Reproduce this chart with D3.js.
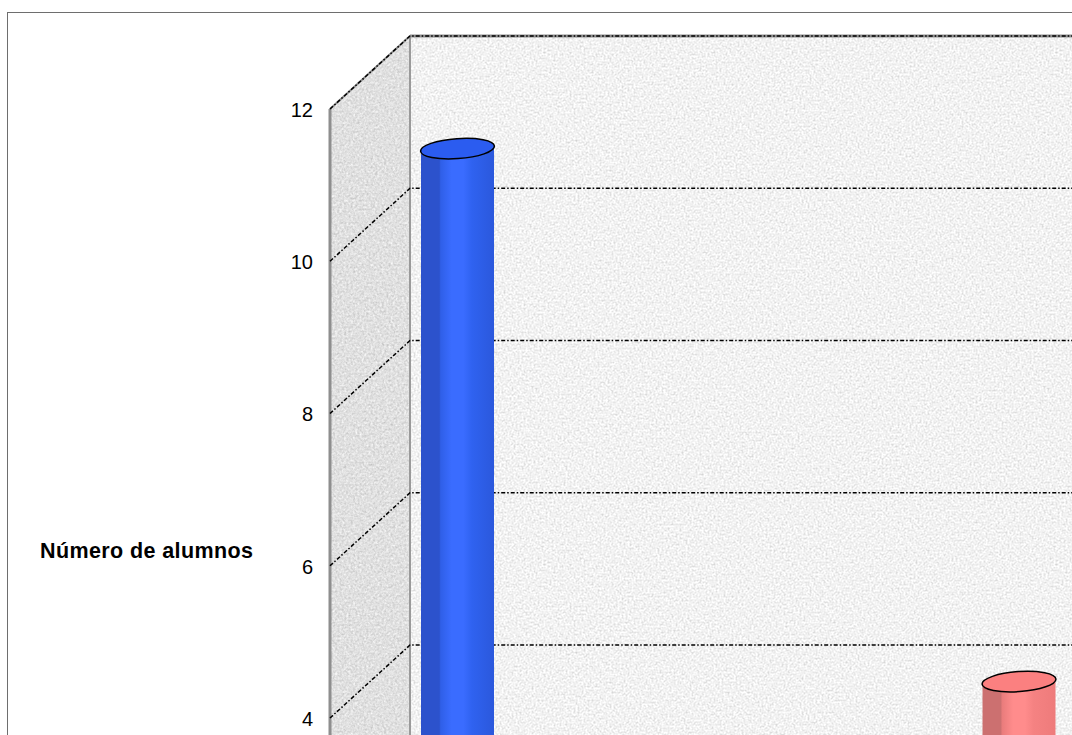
<!DOCTYPE html>
<html>
<head>
<meta charset="utf-8">
<script src="https://cdn.jsdelivr.net/npm/d3@7"></script>
<style>
html, body { margin: 0; padding: 0; background: #fff; overflow: hidden; }
svg { display: block; }
text { font-family: "Liberation Sans", Arial, sans-serif; fill: #000; }
</style>
</head>
<body>
<svg width="1072" height="735"></svg>
<script>
var categories = ["A", "B"];
var values = [11, 4];
var colors = [
  ["#2c52cc", "#2f5fe8", "#3a6cff", "#2f62f0", "#2b58dc"],
  ["#cc7070", "#ea7c7c", "#ff8c8c", "#f58282", "#ee7b7b"]
];
var topColors = ["#2b5cf0", "#fb8080"];
var yTicks = [4, 6, 8, 10, 12];
var yTitle = "Número de alumnos";

var svg = d3.select("svg"),
    width = +svg.attr("width"),
    height = +svg.attr("height");

// front edge of the side wall, back wall sits depthX/depthY behind it
var depthX = 80, depthY = 73, frontX = 330, barW = 73;

var y = d3.scaleLinear().domain([0, 12]).range([1022.6, 109]);
var x = d3.scalePoint().domain(categories).range([457.5, 1019]);

var defs = svg.append("defs");

function paper(id, freq, lo, hi) {
  var f = defs.append("filter").attr("id", id)
      .attr("x", 0).attr("y", 0).attr("width", "100%").attr("height", "100%")
      .attr("color-interpolation-filters", "sRGB");
  f.append("feTurbulence").attr("type", "fractalNoise")
      .attr("baseFrequency", freq).attr("numOctaves", 2).attr("seed", 4);
  f.append("feColorMatrix").attr("type", "matrix")
      .attr("values", "0.5 0.5 0 0 0  0.5 0.5 0 0 0  0.5 0.5 0 0 0  0 0 0 0 1");
  var t = f.append("feComponentTransfer");
  ["feFuncR", "feFuncG", "feFuncB"].forEach(function(c) {
    t.append(c).attr("type", "linear")
        .attr("slope", (hi - lo) / 0.5).attr("intercept", lo - (hi - lo) / 2);
  });
  f.append("feGaussianBlur").attr("stdDeviation", 0.5);
}
paper("backPaper", 0.5, 0.85, 1.05);
paper("sidePaper", 0.45, 0.79, 0.97);

defs.append("clipPath").attr("id", "sideClip")
  .append("path")
    .attr("d", d3.line()([[frontX, y(12)], [frontX + depthX, y(12) - depthY], [frontX + depthX, height], [frontX, height]]));

categories.forEach(function(c, i) {
  var g = defs.append("linearGradient").attr("id", "cyl" + i);
  [[0, 0], [0.25, 0], [0.27, 1], [0.42, 2], [0.58, 2], [0.7, 3], [1, 4]].forEach(function(s) {
    g.append("stop").attr("offset", s[0]).attr("stop-color", colors[i][s[1]]);
  });
});

svg.append("rect")
    .attr("x", 7.5).attr("y", 12.5)
    .attr("width", width + 10).attr("height", height)
    .attr("fill", "#fff").attr("stroke", "#6e6e6e");

var backX = frontX + depthX;

// walls
svg.append("rect")
    .attr("x", backX).attr("y", y(12) - depthY)
    .attr("width", width - backX).attr("height", height)
    .attr("filter", "url(#backPaper)");
svg.append("g")
    .attr("clip-path", "url(#sideClip)")
  .append("rect")
    .attr("x", frontX).attr("y", y(12) - depthY)
    .attr("width", depthX).attr("height", height)
    .attr("filter", "url(#sidePaper)");

// wall edges
svg.append("line")
    .attr("x1", frontX).attr("x2", frontX).attr("y1", y(12)).attr("y2", height)
    .attr("stroke", "#8e8e8e").attr("stroke-width", 3);
svg.append("line")
    .attr("x1", backX).attr("x2", backX).attr("y1", y(12) - depthY).attr("y2", height)
    .attr("stroke", "#9a9a9a").attr("stroke-width", 2);
svg.append("line")
    .attr("x1", frontX).attr("x2", backX).attr("y1", y(12)).attr("y2", y(12) - depthY)
    .attr("stroke", "#8e8e8e").attr("stroke-width", 2);
svg.append("line")
    .attr("x1", backX).attr("x2", width).attr("y1", y(12) - depthY).attr("y2", y(12) - depthY)
    .attr("stroke", "#8e8e8e").attr("stroke-width", 3);

// gridlines
svg.append("g").selectAll("path")
    .data(yTicks)
  .enter().append("path")
    .attr("d", function(d) {
      return d3.line()([[frontX, y(d)], [backX, y(d) - depthY], [width, y(d) - depthY]]);
    })
    .attr("fill", "none")
    .attr("stroke", "#000")
    .attr("stroke-width", 1.5)
    .attr("stroke-dasharray", "4 2 1.5 2");

// axis labels
var axis = svg.append("g")
    .attr("transform", "translate(313,1)")
    .call(d3.axisLeft(y).tickValues(yTicks).tickSize(0).tickPadding(0));
axis.select(".domain").remove();
axis.selectAll("text").attr("font-size", 20).style("font-family", '"Liberation Sans", Arial, sans-serif');

svg.append("text")
    .attr("x", 40).attr("y", 558)
    .attr("font-size", 21.5).attr("font-weight", "bold")
    .attr("textLength", 213)
    .text(yTitle);

// cylinders stand halfway into the depth of the floor
var midY = depthY / 2;
var bars = svg.append("g").selectAll("g")
    .data(values)
  .enter().append("g")
    .attr("transform", function(d, i) {
      return "translate(" + x(categories[i]) + "," + (-midY) + ")";
    });

bars.append("rect")
    .attr("x", -barW / 2)
    .attr("y", function(d) { return y(d); })
    .attr("width", barW)
    .attr("height", function(d) { return y(0) - y(d); })
    .attr("fill", function(d, i) { return "url(#cyl" + i + ")"; });

bars.append("ellipse")
    .attr("cx", 0)
    .attr("cy", function(d) { return y(d); })
    .attr("rx", barW / 2 + 0.5)
    .attr("ry", 10)
    .attr("transform", function(d) { return "rotate(-4 0 " + y(d) + ")"; })
    .attr("fill", function(d, i) { return topColors[i]; })
    .attr("stroke", "#000")
    .attr("stroke-width", 1.5);
</script>
</body>
</html>
